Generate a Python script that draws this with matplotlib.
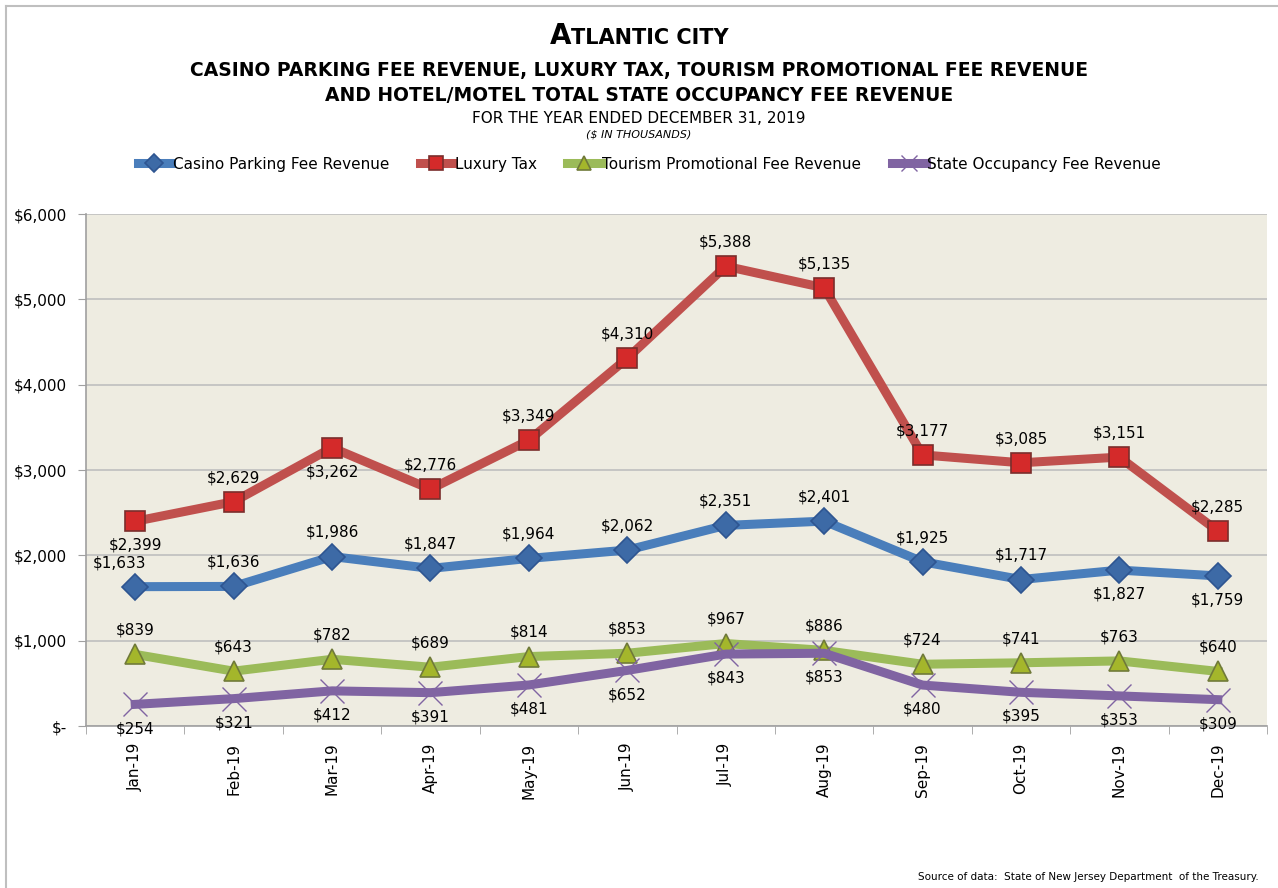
import numpy as np
import matplotlib.pyplot as plt
from matplotlib.lines import Line2D

months = ["Jan-19", "Feb-19", "Mar-19", "Apr-19", "May-19", "Jun-19",
          "Jul-19", "Aug-19", "Sep-19", "Oct-19", "Nov-19", "Dec-19"]
parking = [1633, 1636, 1986, 1847, 1964, 2062, 2351, 2401, 1925, 1717, 1827, 1759]
luxury = [2399, 2629, 3262, 2776, 3349, 4310, 5388, 5135, 3177, 3085, 3151, 2285]
tourism = [839, 643, 782, 689, 814, 853, 967, 886, 724, 741, 763, 640]
occupancy = [254, 321, 412, 391, 481, 652, 843, 853, 480, 395, 353, 309]

# label side for each point: 1 above, -1 below
parking_pos = [1, 1, 1, 1, 1, 1, 1, 1, 1, 1, -1, -1]
luxury_pos = [-1, 1, -1, 1, 1, 1, 1, 1, 1, 1, 1, 1]
tourism_pos = [1] * 12
occupancy_pos = [-1] * 12

plt.rcParams['font.family'] = ['DejaVu Sans']

fig = plt.figure(figsize=(12.78, 8.88), dpi=100)
ax = fig.add_axes([0.0673, 0.1824, 0.9241, 0.5766])
ax.set_facecolor("#EEECE1")

x = np.arange(len(months))

series = [
    ("Casino Parking Fee Revenue", parking, parking_pos, "#4A7EBB", "D", "#3D6AA6", "#2E5591", 13),
    ("Luxury Tax", luxury, luxury_pos, "#C0504D", "s", "#D42A2A", "#7A2E2C", 15),
    ("Tourism Promotional Fee Revenue", tourism, tourism_pos, "#9BBB59", "^", "#A4B62B", "#707A3A", 15),
    ("State Occupancy Fee Revenue", occupancy, occupancy_pos, "#8064A2", "x", "#8064A2", "#8064A2", 17),
]

handles = []
for name, vals, pos, col, mk, mfc, mec, ms in series:
    if mk == "x":
        h, = ax.plot(x, vals, color=col, lw=6.5, marker=mk, ms=ms, mew=1.0,
                     mec=mec, label=name, zorder=3)
    else:
        h, = ax.plot(x, vals, color=col, lw=6.5, marker=mk, ms=ms, mfc=mfc,
                     mec=mec, mew=1.2, label=name, zorder=3)
    handles.append(h)
    for i, (xi, v, p) in enumerate(zip(x, vals, pos)):
        off = 12 if p > 0 else -12
        dx = -11 if (vals is parking and i == 0) else 0
        ax.annotate("${:,}".format(v), (xi, v), xytext=(dx, off),
                    textcoords="offset points", ha="center",
                    va="bottom" if p > 0 else "top", fontsize=11, zorder=4)

ax.set_xlim(-0.5, 11.5)
ax.set_ylim(0, 6000)
ax.set_yticks(range(0, 6001, 1000))
ax.set_yticklabels(["$-"] + ["${:,}".format(v) for v in range(1000, 6001, 1000)],
                   fontsize=11)
ax.yaxis.grid(True, color="#BFBFBF", lw=1.2)
ax.set_axisbelow(True)

ax.set_xticks(x)
ax.set_xticklabels(months, rotation=90, fontsize=11)
ax.set_xticks(np.arange(-0.5, 12, 1), minor=True)
ax.tick_params(axis="x", which="major", length=0, pad=12)
ax.tick_params(axis="x", which="minor", length=6, color="#A0A0A0")
ax.tick_params(axis="y", length=6, color="#A0A0A0", pad=8)

for s in ["top", "right"]:
    ax.spines[s].set_visible(False)
for s in ["left", "bottom"]:
    ax.spines[s].set_color("#A0A0A0")
    ax.spines[s].set_linewidth(1.2)

# title block
r = fig.canvas.get_renderer()
big = fig.text(0, 0.95, "A", fontsize=20, fontweight="bold", va="baseline")
small = fig.text(0, 0.95, "TLANTIC CITY", fontsize=15, fontweight="bold", va="baseline")
w1 = big.get_window_extent(r).width
w2 = small.get_window_extent(r).width
x0 = 0.5 - (w1 + w2) / 2 / fig.bbox.width
big.set_x(x0)
small.set_x(x0 + w1 / fig.bbox.width)

fig.text(0.5, 0.921, "CASINO PARKING FEE REVENUE, LUXURY TAX, TOURISM PROMOTIONAL FEE REVENUE",
         ha="center", va="center", fontsize=13.5, fontweight="bold")
fig.text(0.5, 0.892, "AND HOTEL/MOTEL TOTAL STATE OCCUPANCY FEE REVENUE",
         ha="center", va="center", fontsize=13.5, fontweight="bold")
fig.text(0.5, 0.867, "FOR THE YEAR ENDED DECEMBER 31, 2019",
         ha="center", va="center", fontsize=11)
fig.text(0.5, 0.848, "($ IN THOUSANDS)", ha="center", va="center",
         fontsize=8, style="italic")

fig.legend(handles=handles, loc="center", bbox_to_anchor=(0.508, 0.815), ncol=4,
           frameon=False, fontsize=11, handlelength=2.2, handletextpad=0.1,
           columnspacing=2.0, markerscale=0.7)

fig.text(0.985, 0.007, "Source of data:  State of New Jersey Department  of the Treasury.",
         ha="right", va="bottom", fontsize=7.5)

# outer border
fig.add_artist(Line2D([0.0045, 0.0045], [0, 0.993], color="#BFBFBF", lw=1.5))
fig.add_artist(Line2D([0.0045, 1], [0.993, 0.993], color="#BFBFBF", lw=1.5))

plt.savefig("out.png", dpi=100)
